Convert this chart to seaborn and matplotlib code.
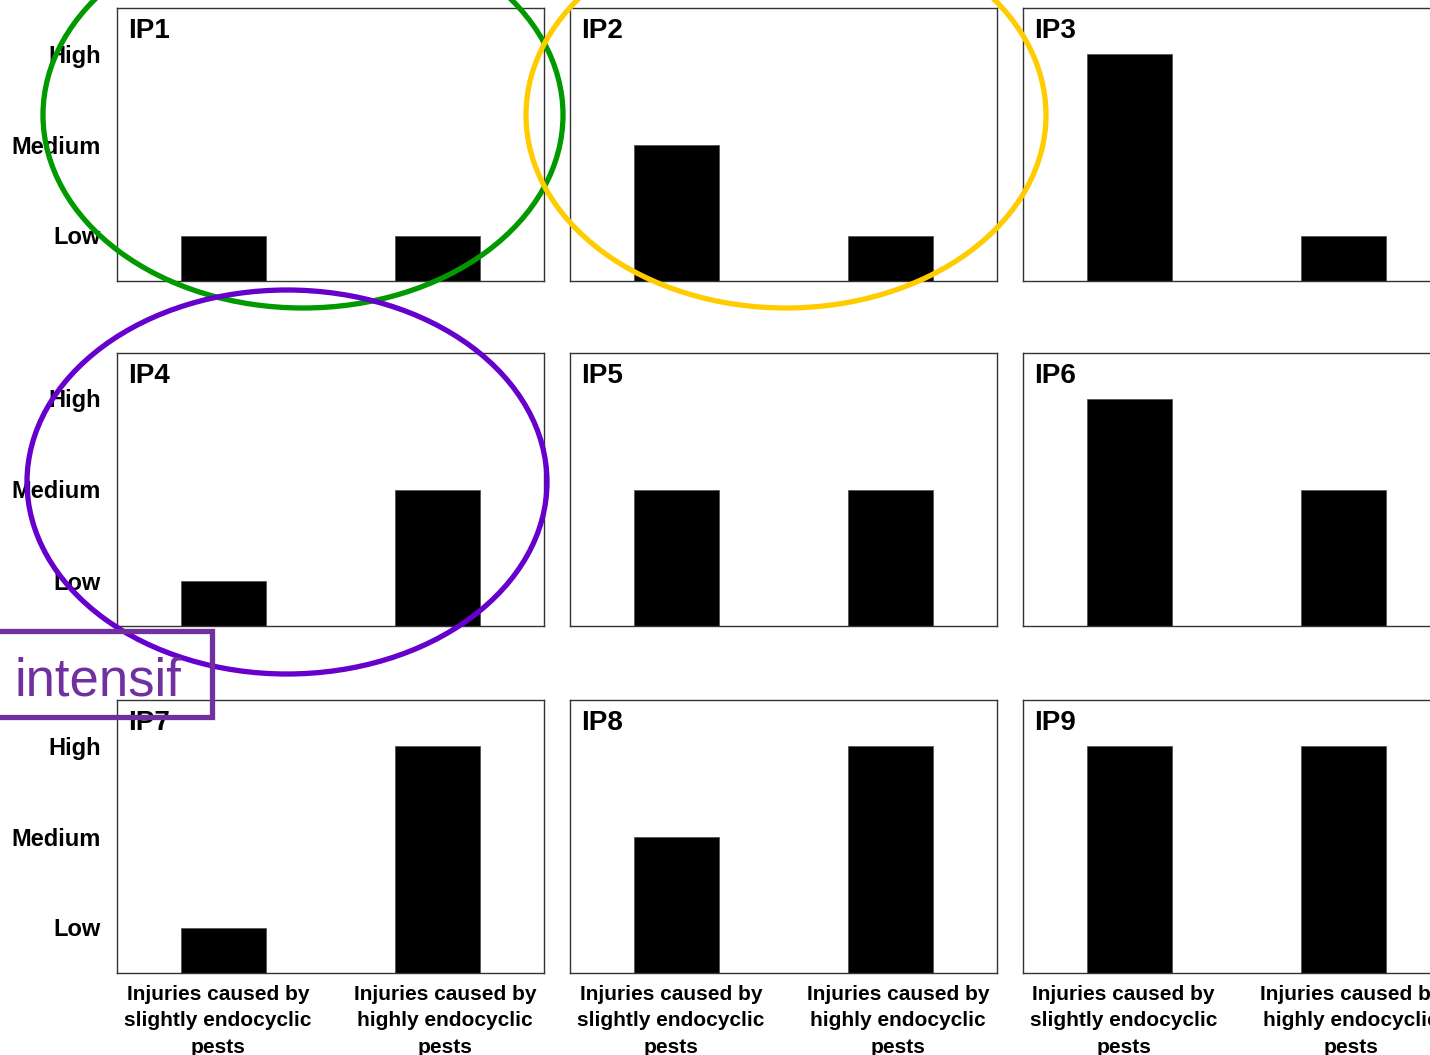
import matplotlib
matplotlib.use("Agg")
import matplotlib.pyplot as plt
from matplotlib.patches import Ellipse, Rectangle
from matplotlib.transforms import ScaledTranslation, blended_transform_factory
import seaborn as sns

sns.set_style("white")
plt.rcParams["font.family"] = ["Liberation Sans", "DejaVu Sans"]
plt.rcParams["text.color"] = "black"
plt.rcParams["xtick.color"] = "black"
plt.rcParams["ytick.color"] = "black"
plt.rcParams["axes.labelcolor"] = "black"

# Injury levels per scenario: 1 = Low, 2 = Medium, 3 = High
panels = ["IP1", "IP2", "IP3", "IP4", "IP5", "IP6", "IP7", "IP8", "IP9"]
slightly_endocyclic = [1, 2, 3, 1, 2, 3, 1, 2, 3]
highly_endocyclic = [1, 1, 1, 2, 2, 2, 3, 3, 3]
categories = ["Injuries caused by\nslightly endocyclic\npests",
              "Injuries caused by\nhighly endocyclic\npests"]
level_labels = ["Low", "Medium", "High"]
level_values = [1, 2, 3]

W, H = 1430, 1055
fig = plt.figure(figsize=(W / 100, H / 100), dpi=100)

col_left = [117, 570, 1023]
row_top = [8, 353, 700]
ax_w, ax_h = 427, 273
label_shift_px = [-6, 8]

for i, name in enumerate(panels):
    r, c = divmod(i, 3)
    left = col_left[c] / W
    bottom = (H - row_top[r] - ax_h) / H
    ax = fig.add_axes([left, bottom, ax_w / W, ax_h / H])
    sns.barplot(x=categories, y=[slightly_endocyclic[i], highly_endocyclic[i]],
                color="black", width=0.4, saturation=1, ax=ax,
                edgecolor="#555555", linewidth=0.6)
    ax.set_xlim(-0.5, 1.5)
    ax.set_ylim(0.5, 3.5)
    ax.set_yticks(level_values)
    if c == 0:
        ax.set_yticklabels(level_labels, fontsize=17, fontweight="bold")
    else:
        ax.set_yticklabels([])
    ax.set_xticks([0, 1])
    ax.set_xticklabels([])
    ax.tick_params(axis="both", length=0)
    ax.tick_params(axis="y", pad=11.5)
    ax.set_xlabel("")
    ax.set_ylabel("")
    if r == 2:
        # category labels under the bottom row
        base = blended_transform_factory(ax.transData, ax.transAxes)
        for k, (txt, dx) in enumerate(zip(categories, label_shift_px)):
            tr = base + ScaledTranslation(dx / 100, -12 / 100, fig.dpi_scale_trans)
            ax.text(k, 0, txt, transform=tr, ha="center", va="top",
                    fontsize=15, fontweight="bold", linespacing=1.5,
                    multialignment="center", clip_on=False)
    for s in ax.spines.values():
        s.set_color("#333333")
        s.set_linewidth(1.0)
    ax.text(0.025, 0.965, name, transform=ax.transAxes, ha="left", va="top",
            fontsize=20, fontweight="bold")

# Hand-drawn highlights on top of the panels
ov = fig.add_axes([0, 0, 1, 1], zorder=10)
ov.set_xlim(0, W)
ov.set_ylim(H, 0)
ov.axis("off")
ov.patch.set_alpha(0)
ov.add_patch(Ellipse((303, 115), 520, 386, fill=False, ec="#009900", lw=3.8))
ov.add_patch(Ellipse((786, 115), 520, 386, fill=False, ec="#FFCC00", lw=3.8))
ov.add_patch(Ellipse((287, 482), 520, 384, fill=False, ec="#6600CC", lw=3.8))
ov.add_patch(Rectangle((-10, 631), 222, 86, fill=False, ec="#7030A0", lw=3.8))
ov.text(15, 696, "intensif", color="#7030A0", fontsize=38, ha="left",
        va="baseline")

fig.savefig("out.png", dpi=100)
